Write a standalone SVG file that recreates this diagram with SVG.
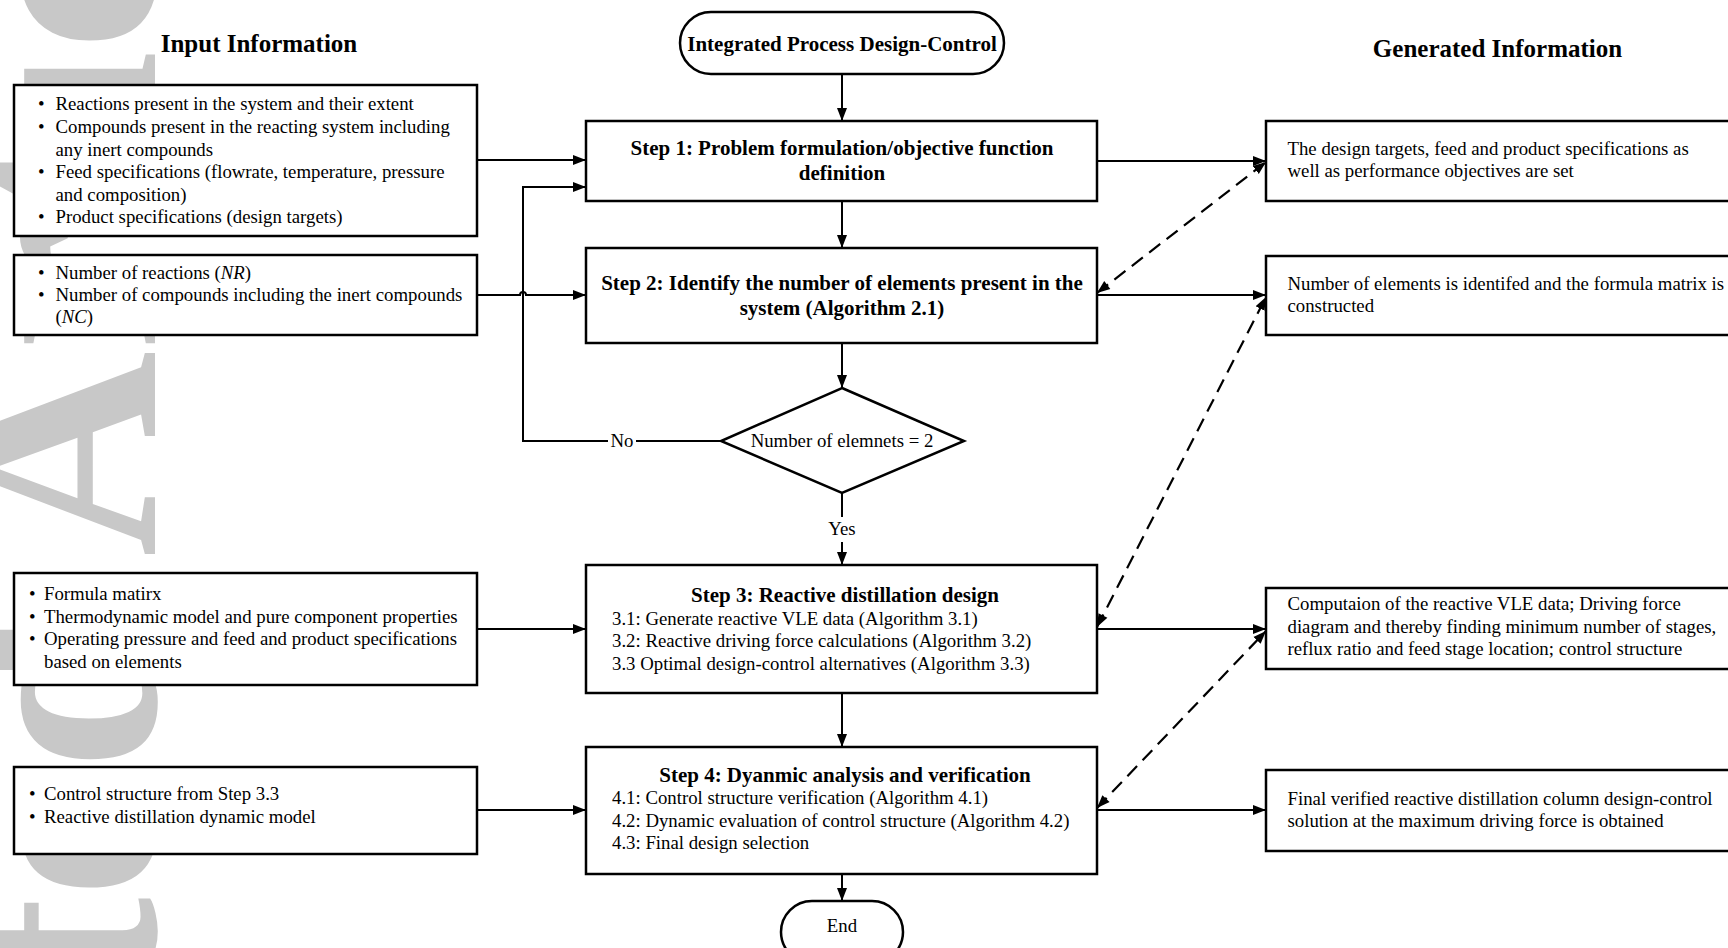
<svg xmlns="http://www.w3.org/2000/svg" width="1728" height="948" viewBox="0 0 1728 948">
<style>
.box{fill:#fff;stroke:#000;stroke-width:2.5}
.t{font-family:"Liberation Serif","Times New Roman",serif;font-size:18.8px;fill:#000}
.b{font-family:"Liberation Serif","Times New Roman",serif;font-size:21px;font-weight:bold;fill:#000}
.h{font-family:"Liberation Serif","Times New Roman",serif;font-size:25px;font-weight:bold;fill:#000}
.c{text-anchor:middle}
.ln{fill:none;stroke:#000;stroke-width:2}
.ar{marker-end:url(#ah)}
.ds{fill:none;stroke:#000;stroke-width:2.2;stroke-dasharray:14 8;marker-start:url(#ahs);marker-end:url(#ah)}
.wm{font-family:"Liberation Serif","Times New Roman",serif;font-size:285px;font-weight:bold;fill:#c8c8c8}
</style>
<defs>
<marker id="ah" markerUnits="userSpaceOnUse" markerWidth="14" markerHeight="11" refX="13" refY="5.5" orient="auto"><path d="M0,0.5 L13,5.5 L0,10.5 z" fill="#000"/></marker>
<marker id="ahs" markerUnits="userSpaceOnUse" markerWidth="14" markerHeight="11" refX="0" refY="5.5" orient="auto"><path d="M13,0.5 L0,5.5 L13,10.5 z" fill="#000"/></marker>
</defs>
<rect width="1728" height="948" fill="#fff"/>
<g id="watermark"><text class="wm" transform="translate(155,1736) rotate(-90)">Accepted Article</text></g>

<g id="titles">
<text class="h c" x="259" y="52">Input Information</text>
<text class="h c" x="1497.5" y="57">Generated Information</text>
</g>

<g id="connectors">
<path class="ln ar" d="M842,74 V121"/>
<path class="ln ar" d="M842,201 V248"/>
<path class="ln ar" d="M842,343 V388"/>
<path class="ln" d="M842,493 V517"/>
<path class="ln ar" d="M842,542 V565"/>
<path class="ln ar" d="M842,693 V747"/>
<path class="ln ar" d="M842,874 V901"/>
<path class="ln" d="M721,441 H636"/>
<path class="ln ar" d="M608,441 H523 V187 H586"/>
<path class="ln ar" d="M477,160 H586"/>
<path class="ln ar" d="M477,295 H520 A3,3 0 0 1 526,295 H586"/>
<path class="ln ar" d="M477,629 H586"/>
<path class="ln ar" d="M477,810 H586"/>
<path class="ln ar" d="M1097,161 H1266"/>
<path class="ln ar" d="M1097,295 H1266"/>
<path class="ln ar" d="M1097,629 H1266"/>
<path class="ln ar" d="M1097,810 H1266"/>
<path class="ds" d="M1097,293 L1266,162"/>
<path class="ds" d="M1097,627 L1266,297"/>
<path class="ds" d="M1097,808 L1266,631"/>
<text class="t c" x="622" y="447">No</text>
<text class="t c" x="842" y="535">Yes</text>
</g>

<g id="start">
<rect class="box" x="680" y="12" width="324" height="62" rx="31"/>
<text class="b c" x="842" y="50.5">Integrated Process Design-Control</text>
</g>

<g id="step1">
<rect class="box" x="586" y="121" width="511" height="80"/>
<text class="b c" x="842" y="155">Step 1: Problem formulation/objective function</text>
<text class="b c" x="842" y="180">definition</text>
</g>

<g id="step2">
<rect class="box" x="586" y="248" width="511" height="95"/>
<text class="b c" x="842" y="290">Step 2: Identify the number of elements present in the</text>
<text class="b c" x="842" y="315">system (Algorithm 2.1)</text>
</g>

<g id="decision">
<polygon class="box" points="842,388 964,441 842,493 721,441"/>
<text class="t c" x="842" y="447">Number of elemnets = 2</text>
</g>

<g id="step3">
<rect class="box" x="586" y="565" width="511" height="128"/>
<text class="b c" x="845" y="601.5">Step 3: Reactive distillation design</text>
<text class="t" x="612" y="624.5">3.1: Generate reactive VLE data (Algorithm 3.1)</text>
<text class="t" x="612" y="647">3.2: Reactive driving force calculations (Algorithm 3.2)</text>
<text class="t" x="612" y="669.5">3.3 Optimal design-control alternatives (Algorithm 3.3)</text>
</g>

<g id="step4">
<rect class="box" x="586" y="747" width="511" height="127"/>
<text class="b c" x="845" y="781.5">Step 4: Dyanmic analysis and verification</text>
<text class="t" x="612" y="804">4.1: Control structure verification (Algorithm 4.1)</text>
<text class="t" x="612" y="826.5">4.2: Dynamic evaluation of control structure (Algorithm 4.2)</text>
<text class="t" x="612" y="849">4.3: Final design selection</text>
</g>

<g id="end">
<rect class="box" x="781" y="901" width="122" height="62" rx="31"/>
<text class="t c" x="842" y="931.5">End</text>
</g>

<g id="input1">
<rect class="box" x="14" y="85" width="463" height="151"/>
<text class="t" x="38" y="110">•</text><text class="t" x="55.5" y="110">Reactions present in the system and their extent</text>
<text class="t" x="38" y="133">•</text><text class="t" x="55.5" y="133">Compounds present in the reacting system including</text>
<text class="t" x="55.5" y="155.5">any inert compounds</text>
<text class="t" x="38" y="178">•</text><text class="t" x="55.5" y="178">Feed specifications (flowrate, temperature, pressure</text>
<text class="t" x="55.5" y="200.5">and composition)</text>
<text class="t" x="38" y="223">•</text><text class="t" x="55.5" y="223">Product specifications (design targets)</text>
</g>

<g id="input2">
<rect class="box" x="14" y="255" width="463" height="80"/>
<text class="t" x="38" y="278.5">•</text><text class="t" x="55.5" y="278.5">Number of reactions (<tspan font-style="italic">NR</tspan>)</text>
<text class="t" x="38" y="301">•</text><text class="t" x="55.5" y="301">Number of compounds including the inert compounds</text>
<text class="t" x="55.5" y="323">(<tspan font-style="italic">NC</tspan>)</text>
</g>

<g id="input3">
<rect class="box" x="14" y="573" width="463" height="112"/>
<text class="t" x="29" y="600">•</text><text class="t" x="44" y="600">Formula matirx</text>
<text class="t" x="29" y="622.5">•</text><text class="t" x="44" y="622.5">Thermodynamic model and pure component properties</text>
<text class="t" x="29" y="645">•</text><text class="t" x="44" y="645">Operating pressure and feed and product specifications</text>
<text class="t" x="44" y="667.5">based on elements</text>
</g>

<g id="input4">
<rect class="box" x="14" y="767" width="463" height="87"/>
<text class="t" x="29" y="799.5">•</text><text class="t" x="44" y="799.5">Control structure from Step 3.3</text>
<text class="t" x="29" y="822.5">•</text><text class="t" x="44" y="822.5">Reactive distillation dynamic model</text>
</g>

<g id="output1">
<rect class="box" x="1266" y="121" width="470" height="80"/>
<text class="t" x="1287.5" y="155">The design targets, feed and product specifications as</text>
<text class="t" x="1287.5" y="177">well as performance objectives are set</text>
</g>

<g id="output2">
<rect class="box" x="1266" y="256" width="470" height="79"/>
<text class="t" x="1287.5" y="290">Number of elements is identifed and the formula matrix is</text>
<text class="t" x="1287.5" y="312">constructed</text>
</g>

<g id="output3">
<rect class="box" x="1266" y="588" width="470" height="81"/>
<text class="t" x="1287.5" y="610">Computaion of the reactive VLE data; Driving force</text>
<text class="t" x="1287.5" y="633">diagram and thereby finding minimum number of stages,</text>
<text class="t" x="1287.5" y="655">reflux ratio and feed stage location; control structure</text>
</g>

<g id="output4">
<rect class="box" x="1266" y="770" width="470" height="81"/>
<text class="t" x="1287.5" y="805">Final verified reactive distillation column design-control</text>
<text class="t" x="1287.5" y="827">solution at the maximum driving force is obtained</text>
</g>
</svg>
